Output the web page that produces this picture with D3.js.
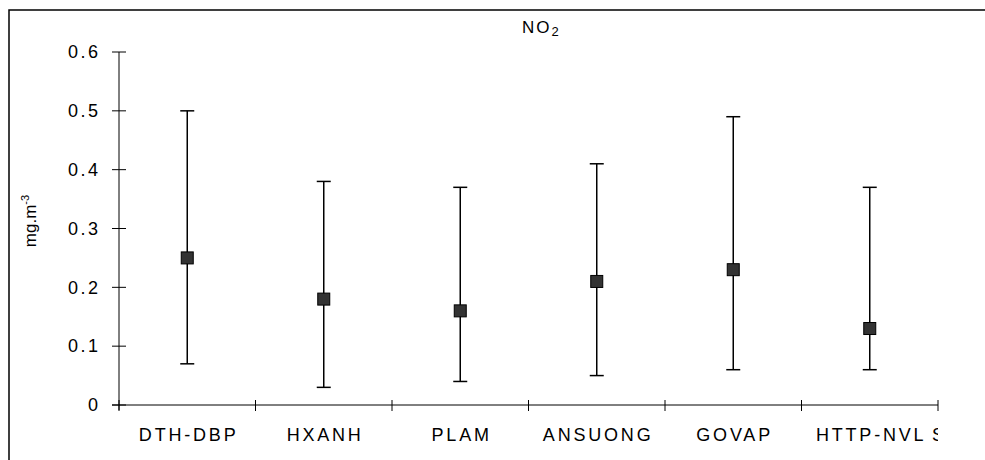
<!DOCTYPE html>
<html><head><meta charset="utf-8">
<script src="https://cdn.jsdelivr.net/npm/d3@7"></script>
<style>body{margin:0;background:#fff}svg{display:block;font-family:Arial,"Liberation Sans",sans-serif}</style>
</head><body>
<script>
const categories = ["DTH-DBP","HXANH","PLAM","ANSUONG","GOVAP","HTTP-NVL"];
const meanValues = [0.25,0.18,0.16,0.21,0.23,0.13];
const maxValues  = [0.50,0.38,0.37,0.41,0.49,0.37];
const minValues  = [0.07,0.03,0.04,0.05,0.06,0.06];
const yTicks = [0,0.1,0.2,0.3,0.4,0.5,0.6];

const W=985,H=460;
const svg=d3.select("body").append("svg").attr("width",W).attr("height",H);
// frame
svg.append("rect").attr("x",9).attr("y",10).attr("width",1000).attr("height",500)
  .attr("fill","none").attr("stroke","#000").attr("stroke-width",1.5);

const x0=119,x1=938,yTop=52,yBot=405;
const x=d3.scaleBand().domain(categories).range([x0,x1]).padding(0);
const y=d3.scaleLinear().domain([0,0.6]).range([yBot,yTop]);

// y axis
const ya=svg.append("g").attr("transform",`translate(${x0},0)`);
ya.append("line").attr("y1",y(0.6)).attr("y2",y(0)+5).attr("stroke","#000");
yTicks.forEach(t=>{
  ya.append("line").attr("x1",-7).attr("x2",7).attr("y1",y(t)).attr("y2",y(t)).attr("stroke","#000");
  ya.append("text").attr("x",-18.5).attr("y",y(t)).attr("dy","0.35em").attr("text-anchor","end")
    .attr("font-size",18).attr("letter-spacing",2.5).attr("fill","#000").text(t===0?"0":t.toFixed(1));
});
// x axis
const xa=svg.append("g");
xa.append("line").attr("x1",x0-7).attr("x2",x1).attr("y1",yBot).attr("y2",yBot).attr("stroke","#000");
const bounds=categories.map(c=>x(c)).concat([x1]);
bounds.forEach(b=>{
  xa.append("line").attr("x1",b).attr("x2",b).attr("y1",yBot-5).attr("y2",yBot+6).attr("stroke","#000");
});
categories.forEach(c=>{
  xa.append("text").attr("x",x(c)+x.bandwidth()/2+1.4).attr("y",441).attr("text-anchor","middle")
    .attr("font-size",18).attr("letter-spacing",2.8).attr("fill","#000").text(c);
});
// clipped stray label
svg.append("clipPath").attr("id","cl").append("rect").attr("x",x1-10).attr("y",420).attr("width",10).attr("height",30);
svg.append("text").attr("x",x1-6).attr("y",441).attr("font-size",18).attr("clip-path","url(#cl)").text("SO");

// error bars
const g=svg.append("g");
categories.forEach((c,i)=>{
  const cx=x(c)+x.bandwidth()/2;
  g.append("line").attr("x1",cx).attr("x2",cx).attr("y1",y(maxValues[i])).attr("y2",y(minValues[i])).attr("stroke","#000").attr("stroke-width",1.5);
  [maxValues[i],minValues[i]].forEach(v=>{
    g.append("line").attr("x1",cx-7).attr("x2",cx+7).attr("y1",y(v)).attr("y2",y(v)).attr("stroke","#000").attr("stroke-width",1.5);
  });
  g.append("rect").attr("x",cx-6).attr("y",y(meanValues[i])-6).attr("width",12).attr("height",12)
    .attr("fill","#333").attr("stroke","#000").attr("stroke-width",1);
});

// title
const tt=svg.append("text").attr("x",522).attr("y",33).attr("font-size",17).attr("letter-spacing",2).attr("fill","#000");
tt.append("tspan").text("NO");
tt.append("tspan").attr("dy",3).attr("font-size",13).text("2");

// y label
const yl=svg.append("text").attr("transform","translate(36,221) rotate(-90)").attr("text-anchor","middle").attr("font-size",17).attr("fill","#000");
yl.append("tspan").text("mg.m");
yl.append("tspan").attr("dy",-7).attr("font-size",11).text("-3");
</script>
</body></html>
